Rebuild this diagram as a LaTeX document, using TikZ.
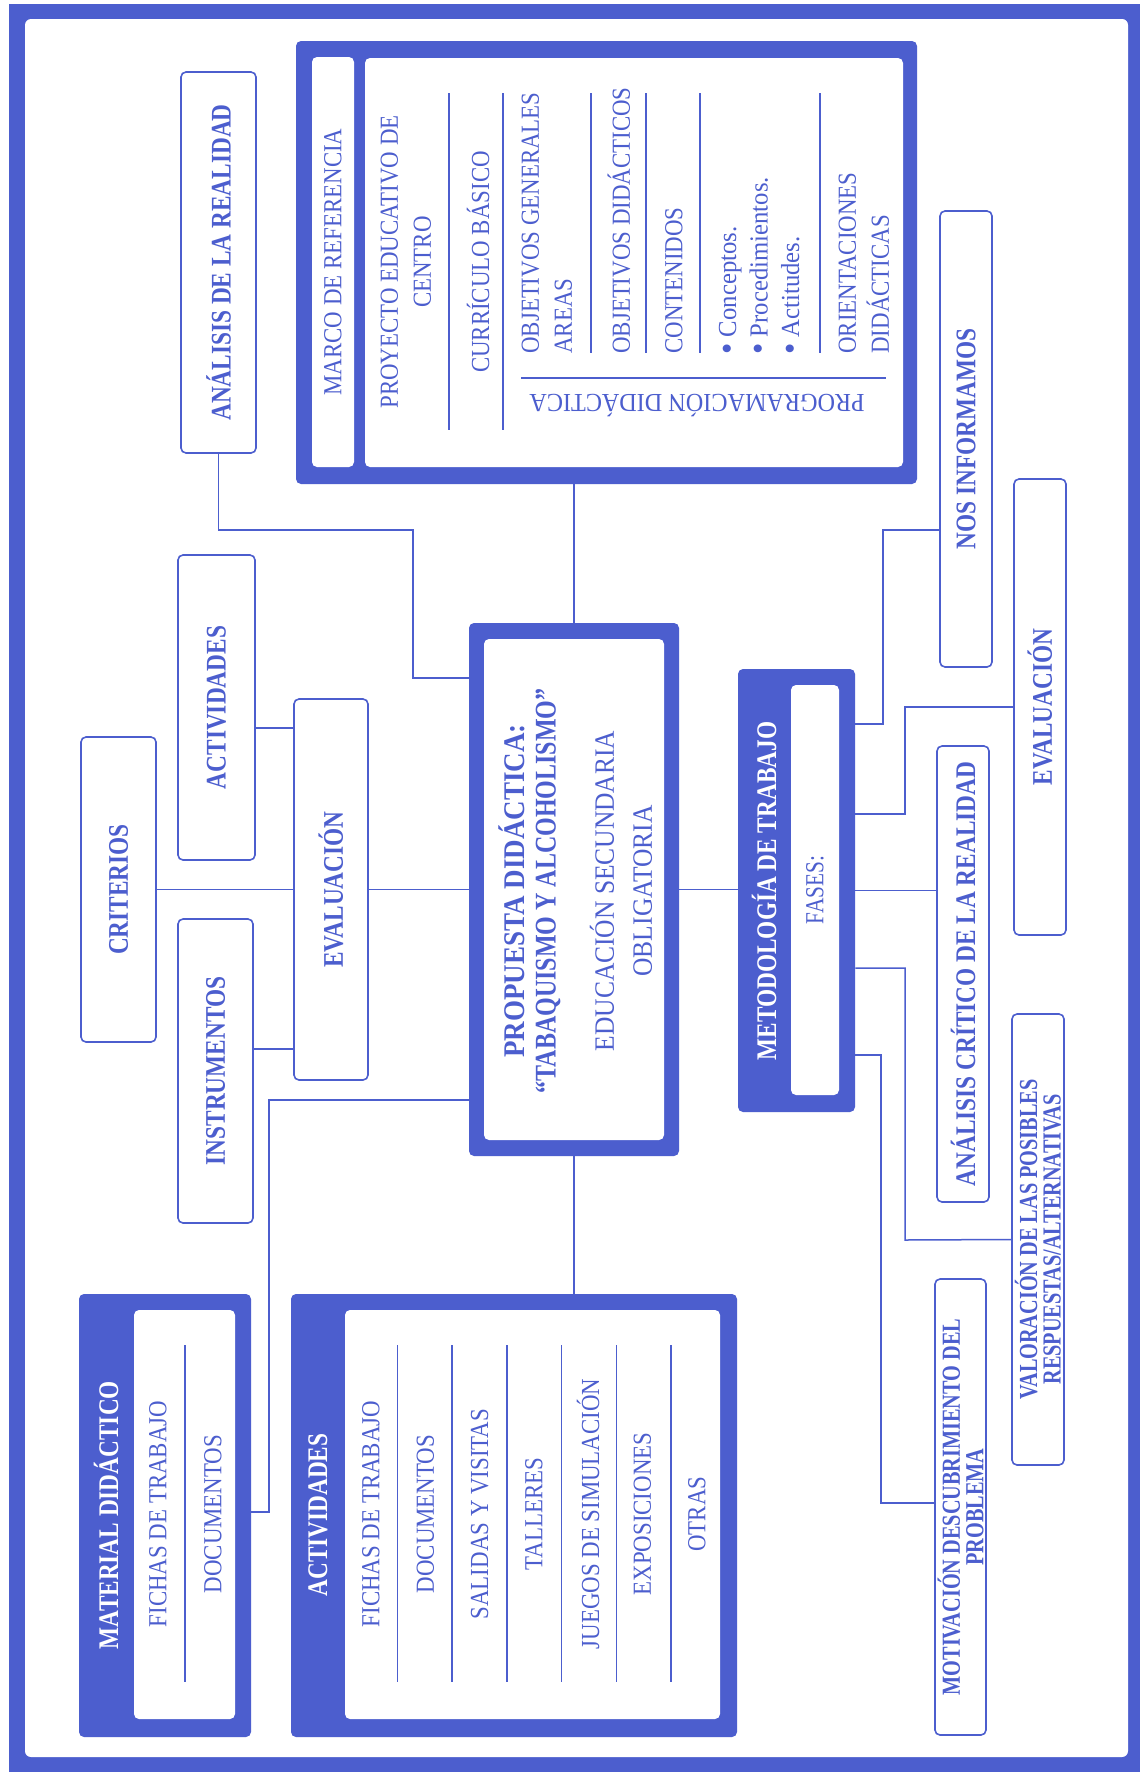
\documentclass[tikz,border=0pt]{standalone}
\usepackage{fontspec}
\setmainfont{Liberation Serif}
\usetikzlibrary{fit}
\definecolor{azul}{RGB}{76,94,206}

\tikzset{
  caja/.style={draw=azul, line width=0.8pt, rounded corners=2.5pt, fill=white, inner sep=0pt},
  bloque/.style={fill=azul, rounded corners=2.5pt, inner sep=0pt},
  hueco/.style={fill=white, rounded corners=2.5pt, inner sep=0pt},
  linea/.style={draw=azul, line width=0.75pt},
  tbase/.style={text=azul, inner sep=0pt, align=center},
  rtxt/.style={tbase, rotate=90, xscale=.88, font=\fontsize{13}{16.5}\selectfont},
  btxt/.style={tbase, rotate=90, xscale=.82, font=\fontsize{14.2}{17}\selectfont\bfseries},
  htxt/.style={btxt, text=white},
  stxt/.style={tbase, rotate=90, xscale=.78, font=\fontsize{13}{11.75}\selectfont\bfseries},
  ptxt/.style={tbase, rotate=90, font=\fontsize{15}{18}\selectfont\bfseries},
  etxt/.style={tbase, rotate=90, xscale=.91, font=\fontsize{14}{19}\selectfont},
  itxt/.style={tbase, rotate=180, xscale=.93, font=\fontsize{13}{16.5}\selectfont},
}
\newcommand{\punto}{\raisebox{-1pt}{\fontsize{17}{15}\selectfont\textbullet}\ }

\begin{document}
\begin{tikzpicture}[x=0.5pt, y=-0.5pt]
\useasboundingbox (0,0) rectangle (1140,1772);
% marco de la pagina
\fill[azul] (9,4) rectangle (1140,1772);
\fill[white, rounded corners=3pt] (25,19) rectangle (1128,1757);

% marco de referencia
\node[bloque, fit={(296,41) (917,484)}] (ref) {};
\node[hueco, fit={(312,57) (354,467)}] (refa) {};
\node[hueco, fit={(365,58) (903,467)}] (refb) {};
\foreach \c/\b in {449/430, 503/430, 591/353, 646/353, 700/353, 820/353}
{	\draw[linea] (\c,93) -- (\c,\b);
}
\draw[linea] (521,378) -- (886,378);
\node[rtxt] (mref) at (refa) {MARCO DE REFERENCIA};
\node[rtxt] (pec) at (406,262) {PROYECTO EDUCATIVO DE\\CENTRO};
\node[rtxt] (cb) at (478,262) {CURRÍCULO BÁSICO};
\node[rtxt, align=left, anchor=west] (oga) at (547,354) {OBJETIVOS GENERALES\\AREAS};
\node[rtxt, anchor=west] (od) at (619,354) {OBJETIVOS DIDÁCTICOS};
\node[rtxt, anchor=west] (cont) at (674,354) {CONTENIDOS};
\node[rtxt, xscale=1.08, align=left, anchor=west, font=\fontsize{13}{15.75}\selectfont] (cpa) at (760,355)
  {\punto Conceptos.\\\punto Procedimientos.\\\punto Actitudes.};
\node[rtxt, align=left, anchor=west] (ord) at (864,354) {ORIENTACIONES\\DIDÁCTICAS};
\node[itxt] (prog) at (697,406) {PROGRAMACIÓN DIDÁCTICA};

% propuesta central
\node[bloque, fit={(469,623) (679,1156)}] (prop) {};
\node[hueco, fit={(484,639) (664,1140)}] (propi) {};
\node[ptxt, xscale=.90] (tit1) at (512,891) {PROPUESTA DIDÁCTICA:};
\node[ptxt, xscale=.80] (tit2) at (548,891) {“TABAQUISMO Y ALCOHOLISMO”};
\node[etxt] (eso) at (621,891) {EDUCACIÓN SECUNDARIA\\OBLIGATORIA};

% evaluacion
\node[caja, fit={(181,72) (256,453)}] (anal) {};
\node[btxt] at (anal) {ANÁLISIS DE LA REALIDAD};
\node[caja, fit={(178,555) (255,860)}] (actv) {};
\node[btxt] at (actv) {ACTIVIDADES};
\node[caja, fit={(81,737) (156,1042)}] (crit) {};
\node[btxt] at (crit) {CRITERIOS};
\node[caja, fit={(294,699) (368,1080)}] (eval) {};
\node[btxt] at (eval) {EVALUACIÓN};
\node[caja, fit={(178,919) (253,1223)}] (inst) {};
\node[btxt] at (inst) {INSTRUMENTOS};

% material y actividades
\node[bloque, fit={(79,1294) (251,1737)}] (mat) {};
\node[hueco, fit={(134,1310) (235,1719)}] (mati) {};
\node[htxt] (matt) at (106,1515) {MATERIAL DIDÁCTICO};
\node[rtxt] (mat1) at (158,1514) {FICHAS DE TRABAJO};
\draw[linea] (185,1345) -- (185,1682);
\node[rtxt] (mat2) at (213,1514) {DOCUMENTOS};

\node[bloque, fit={(291,1294) (737,1737)}] (acts) {};
\node[hueco, fit={(345,1310) (720,1719)}] (actsi) {};
\node[htxt] (actt) at (318,1515) {ACTIVIDADES};
\foreach \t [count=\i from 0] in {FICHAS DE TRABAJO, DOCUMENTOS, SALIDAS Y VISITAS,
  TALLERES, JUEGOS DE SIMULACIÓN, EXPOSICIONES, OTRAS}
{	\node[rtxt] (act\i) at (371+54.3*\i,1514) {\t};
}
\foreach \i in {0,...,5}
{	\draw[linea] (397.5+54.7*\i,1345) -- ++(0,337);
}

% metodologia
\node[bloque, fit={(738,669) (855,1112)}] (met) {};
\node[hueco, fit={(791,685) (839,1095)}] (meti) {};
\node[htxt] (mett) at (764,891) {METODOLOGÍA DE TRABAJO};
\node[rtxt, xscale=.93] (fas) at (meti) {FASES:};
\node[caja, fit={(940,211) (992,667)}] (nos) {};
\node[btxt] at (nos) {NOS INFORMAMOS};
\node[caja, fit={(1014,479) (1066,935)}] (evr) {};
\node[btxt] at (evr) {EVALUACIÓN};
\node[caja, fit={(937,746) (989,1202)}] (acr) {};
\node[btxt] at (acr) {ANÁLISIS CRÍTICO DE LA REALIDAD};
\node[caja, fit={(1012,1014) (1064,1465)}] (val) {};
\node[stxt] at (val) {VALORACIÓN DE LAS POSIBLES\\RESPUESTAS/ALTERNATIVAS};
\node[caja, fit={(935,1279) (986,1735)}] (mot) {};
\node[stxt] at (mot) {MOTIVACIÓN DESCUBRIMIENTO DEL\\PROBLEMA};

% conexiones
\draw[linea] (anal.south) |- (413,530) |- (prop.west |- 0,678);
\draw[linea] (actv.east |- 0,728) -- (eval.west |- 0,728);
\draw[linea] (crit.east) -- (eval.west);
\draw[linea] (inst.east |- 0,1049) -- (eval.west |- 0,1049);
\draw[linea] (eval.east) -- (prop.west);
\draw[linea] (prop.west |- 0,1100) -| (269,1512) -- (mat.east |- 0,1512);
\draw[linea] (prop.north) -- (prop.north |- ref.south);
\draw[linea] (prop.south) -- (prop.south |- acts.north);
\draw[linea] (prop.east) -- (met.west |- prop.east);
\draw[linea] (met.east |- 0,724) -| (883,530) -- (nos.west |- 0,530);
\draw[linea] (met.east |- 0,814) -| (905,707) -- (evr.west);
\draw[linea] (met.east) -- (acr.west |- met.east);
\draw[linea] (met.east |- 0,968) -| (905,1240) -- (val.west);
\draw[linea] (met.east |- 0,1055) -| (881,1503) -- (mot.west |- 0,1503);
\end{tikzpicture}
\end{document}
